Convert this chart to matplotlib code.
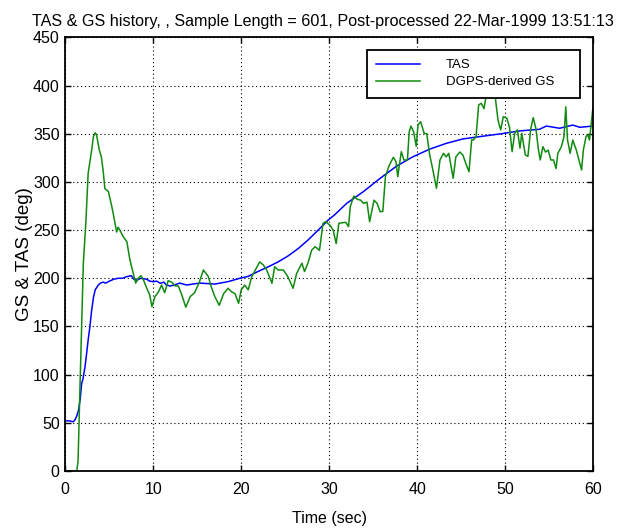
import matplotlib
matplotlib.use("Agg")
import matplotlib.pyplot as plt

plt.rcParams['font.family'] = ['Liberation Sans', 'DejaVu Sans']

# True airspeed history (time in s, speed)
tas_t = [0.0, 0.5, 0.9, 1.1, 1.3, 1.5, 1.7, 1.86, 2.0, 2.24, 2.4, 2.6, 2.8, 3.0,
         3.2, 3.4, 3.75, 4.0, 4.3, 4.6, 5.0, 5.5, 6.0, 6.5, 7.0, 7.5, 7.8, 8.1,
         8.6, 9.25, 9.6, 10.0, 10.4, 10.8, 11.2, 11.5, 11.9, 12.4, 13.0, 13.4,
         13.8, 14.5, 15.3, 17.0, 18.5, 19.85, 20.8, 21.9, 23.1, 24.2, 25.3,
         26.5, 27.6, 28.75, 29.9, 30.6, 32.0, 33.9, 35.8, 37.7, 39.5, 41.4,
         43.3, 45.2, 47.1, 49.4, 51.7, 53.9, 54.7, 56.2, 57.7, 58.5, 60.0]
tas_v = [52, 52, 51, 53, 57, 63, 75, 91, 95, 108, 120, 136, 150, 167,
         180, 188, 193, 195, 196, 195, 197, 199, 200, 200, 201.7, 202.7, 199, 198,
         200, 199, 197, 196.5, 197, 194.8, 196, 193, 192, 193, 195, 194,
         193, 194, 195, 194, 196.5, 200, 202, 207, 212, 217, 223,
         231, 239.7, 250, 260.5, 265.7, 277.8, 290, 303.8, 316.6, 326, 333.9,
         340, 344.6, 347, 349.8, 353, 354.6, 358, 355.7, 359, 356.7, 358]

# DGPS-derived ground speed history
gs_t = [0.0, 1.3, 1.45, 1.67, 2.05, 2.35, 2.6, 3.0, 3.2, 3.4, 3.55, 3.87, 4.1,
        4.3, 4.5, 4.9, 5.3, 5.45, 5.84, 6.0, 6.2, 6.6, 7.0, 7.35, 7.73, 8.0,
        8.3, 8.6, 8.9, 9.25, 9.6, 9.85, 10.2, 10.6, 10.95, 11.3, 11.7, 12.1,
        12.5, 12.85, 13.2, 13.7, 14.2, 14.7, 15.2, 15.7, 16.25, 16.6, 17.0,
        17.5, 18.0, 18.5, 18.9, 19.3, 19.7, 20.0, 20.4, 20.8, 21.2, 21.6,
        22.1, 22.5, 22.9, 23.5, 23.8, 24.2, 24.8, 25.3, 25.9, 26.3, 26.9,
        27.2, 27.6, 28.0, 28.4, 28.9, 29.3, 29.6, 30.1, 30.45, 30.8, 31.1,
        31.5, 31.9, 32.2, 32.4, 32.8, 33.2, 33.6, 33.9, 34.3, 34.6, 35.1,
        35.45, 35.8, 36.1, 36.4, 36.8, 37.3, 37.6, 37.8, 38.2, 38.5, 38.9,
        39.1, 39.3, 39.6, 39.9, 40.1, 40.4, 40.8, 41.1, 41.4, 41.8, 42.2,
        42.6, 43.0, 43.3, 43.6, 44.1, 44.4, 44.85, 45.2, 45.6, 45.9, 46.2,
        46.4, 46.7, 47.0, 47.3, 47.6, 47.9, 48.3, 48.6, 48.9, 49.2, 49.5,
        49.8, 50.2, 50.5, 50.8, 51.1, 51.4, 51.7, 51.9, 52.3, 52.6, 52.9,
        53.2, 53.5, 53.8, 54.0, 54.3, 54.6, 54.9, 55.2, 55.5, 55.8, 56.0,
        56.4, 56.7, 56.9, 57.1, 57.4, 57.7, 58.1, 58.4, 58.7, 58.9, 59.2,
        59.4, 59.6, 60.0]
gs_v = [0, 0, 10, 87, 215, 260, 309, 333, 347, 351, 349, 333, 326,
        312, 293, 290, 274, 267, 248, 253, 250, 243, 238, 219, 205, 195,
        200, 202.7, 198, 190, 182.6, 170.5, 181, 186, 193, 185, 197.5, 196,
        192, 192, 184, 170, 181, 185, 195, 208.6, 202, 191, 181,
        172, 184, 189.6, 186, 184, 174, 188, 193, 188, 201.7, 208.6,
        217, 214, 208.6, 194.8, 212, 208.6, 208.6, 201.7, 189.6, 205, 215.6,
        207, 216, 229, 232.8, 229, 257, 258.7, 255, 250, 236, 257,
        257.7, 258, 253.6, 274.3, 285.4, 282, 281, 277.8, 279, 258.7, 281,
        277.8, 269, 269.5, 305.5, 316.6, 325.6, 321, 305.4, 331.4, 322.8, 322.8,
        352, 358, 352, 337, 359, 362.5, 350.5, 350, 329.7, 312, 293.4,
        322.8, 329.7, 326, 329.7, 303.8, 326, 331, 328, 317.6, 310.6, 343.5,
        343.5, 347, 380, 381.6, 376, 392, 398, 392, 386.8, 364, 354,
        367.7, 366, 357, 331.4, 350.5, 354, 335, 350.5, 328, 326.6, 354,
        366.7, 355.7, 333, 322.8, 336.6, 331, 333, 322.8, 322.8, 314, 329.7,
        336.6, 347, 378, 343.5, 329.7, 343.5, 333, 322.8, 312.4, 333, 347,
        349, 343.5, 378]

x_ticks = [0, 10, 20, 30, 40, 50, 60]
y_ticks = [0, 50, 100, 150, 200, 250, 300, 350, 400, 450]

fig = plt.figure(figsize=(6.29, 5.32), dpi=100)
ax = fig.add_axes([0.1038, 0.1147, 0.8390, 0.8150])

ax.plot(tas_t, tas_v, color='#0000ff', linewidth=1.1, label='TAS')
ax.plot(gs_t, gs_v, color='#118a11', linewidth=1.1, label='DGPS-derived GS')

ax.set_xlim(0, 60)
ax.set_ylim(0, 450)
ax.set_xticks(x_ticks)
ax.set_yticks(y_ticks)
ax.grid(True, color='black', linestyle=(0, (1, 2.5)), linewidth=0.8)
ax.tick_params(direction='in', length=4, width=1.0, top=True, right=True,
               labelsize=11.5, pad=8)
ax.tick_params(axis='y', pad=4)
for s in ax.spines.values():
    s.set_linewidth(1.3)

ax.set_title('TAS & GS history, , Sample Length = 601, Post-processed 22-Mar-1999 13:51:13',
             fontsize=11.6, pad=8, x=0.488)
ax.set_xlabel('Time (sec)', fontsize=11.5, labelpad=10)
ax.set_ylabel('GS & TAS (deg)', fontsize=13.5, labelpad=0)

leg = ax.legend(loc='upper left', bbox_to_anchor=(0.5717, 0.8626, 0.4037, 0.1084),
                mode='expand', borderaxespad=0, fontsize=9.5, handlelength=3.3,
                handletextpad=1.95, labelspacing=0.35, borderpad=0.7,
                fancybox=False, framealpha=1, edgecolor='black')
leg.get_frame().set_linewidth(1.3)
leg.set_zorder(5)

fig.savefig('out.png', dpi=100)
